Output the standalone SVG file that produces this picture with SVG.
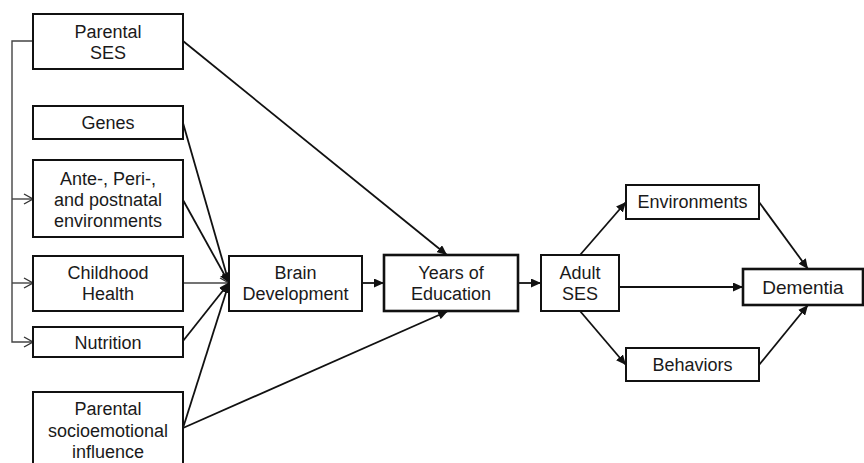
<svg xmlns="http://www.w3.org/2000/svg" width="864" height="463" viewBox="0 0 864 463">
<defs>
<marker id="arr" markerUnits="userSpaceOnUse" markerWidth="11" markerHeight="9" refX="10" refY="4.5" orient="auto">
<path d="M0,0 L10,4.5 L0,9 z" fill="#111"/>
</marker>
<marker id="open" markerUnits="userSpaceOnUse" markerWidth="12" markerHeight="12" refX="10" refY="6" orient="auto">
<path d="M1,1 L10,6 L1,11" fill="none" stroke="#333" stroke-width="1.4"/>
</marker>
</defs>
<style>
rect{fill:#fff;stroke:#111;stroke-width:2}
rect.thick{stroke-width:2.6}
text{font-family:"Liberation Sans",Arial,sans-serif;font-size:18px;fill:#1a1a1a;text-anchor:middle}
.c{fill:none;stroke:#111;stroke-width:1.8}
.g{fill:none;stroke:#444;stroke-width:1.4}
</style>
<rect width="864" height="463" fill="#fff" style="stroke:none"/>
<g id="connectors">
<path class="g" d="M33,41 H12 V342 H33" marker-end="url(#open)"/>
<path class="g" d="M12,199 H33" marker-end="url(#open)"/>
<path class="g" d="M12,283 H33" marker-end="url(#open)"/>
<path class="c" d="M183,41 L447,255" marker-end="url(#arr)"/>
<path class="c" d="M183,123 L229,283" marker-end="url(#arr)"/>
<path class="c" d="M183,200 L229,283" marker-end="url(#arr)"/>
<path class="g" d="M183,283 L229,283" marker-end="url(#open)"/>
<path class="c" d="M183,341 L229,283" marker-end="url(#arr)"/>
<path class="c" d="M183,428 L229,283" marker-end="url(#arr)"/>
<path class="c" d="M183,428 L448,311" marker-end="url(#arr)"/>
<path class="c" d="M362,283 L384,283" marker-end="url(#arr)"/>
<path class="c" d="M518,283 L541,283" marker-end="url(#arr)"/>
<path class="c" d="M580,255 L626,202" marker-end="url(#arr)"/>
<path class="c" d="M619,287 L743,287" marker-end="url(#arr)"/>
<path class="c" d="M580,311 L626,365" marker-end="url(#arr)"/>
<path class="c" d="M759,202 L808,269" marker-end="url(#arr)"/>
<path class="c" d="M759,365 L808,305" marker-end="url(#arr)"/>
</g>
<g id="parental-ses"><rect x="33" y="14" width="150" height="55"/><text x="108" y="38">Parental</text><text x="108" y="59">SES</text></g>
<g id="genes"><rect x="33" y="106" width="150" height="33"/><text x="108" y="129">Genes</text></g>
<g id="ante"><rect x="33" y="160" width="150" height="77"/><text x="108" y="185">Ante-, Peri-,</text><text x="108" y="206">and postnatal</text><text x="108" y="227">environments</text></g>
<g id="childhood"><rect x="33" y="256" width="150" height="55"/><text x="108" y="279">Childhood</text><text x="108" y="300">Health</text></g>
<g id="nutrition"><rect x="33" y="327" width="150" height="30"/><text x="108" y="349">Nutrition</text></g>
<g id="socio"><rect x="33" y="392" width="150" height="82"/><text x="108" y="415">Parental</text><text x="108" y="437">socioemotional</text><text x="108" y="458">influence</text></g>
<g id="brain"><rect x="229" y="256" width="133" height="55"/><text x="295.5" y="279">Brain</text><text x="295.5" y="300">Development</text></g>
<g id="years"><rect class="thick" x="384" y="255" width="134" height="56"/><text x="451" y="279">Years of</text><text x="451" y="300">Education</text></g>
<g id="adult"><rect x="541" y="255" width="78" height="56"/><text x="580" y="279">Adult</text><text x="580" y="300">SES</text></g>
<g id="environments"><rect x="626" y="185" width="133" height="34"/><text x="692.5" y="208">Environments</text></g>
<g id="behaviors"><rect x="626" y="348" width="133" height="33"/><text x="692.5" y="371">Behaviors</text></g>
<g id="dementia"><rect class="thick" x="743" y="269" width="120" height="36"/><text x="803" y="294" style="font-size:19px">Dementia</text></g>
</svg>
